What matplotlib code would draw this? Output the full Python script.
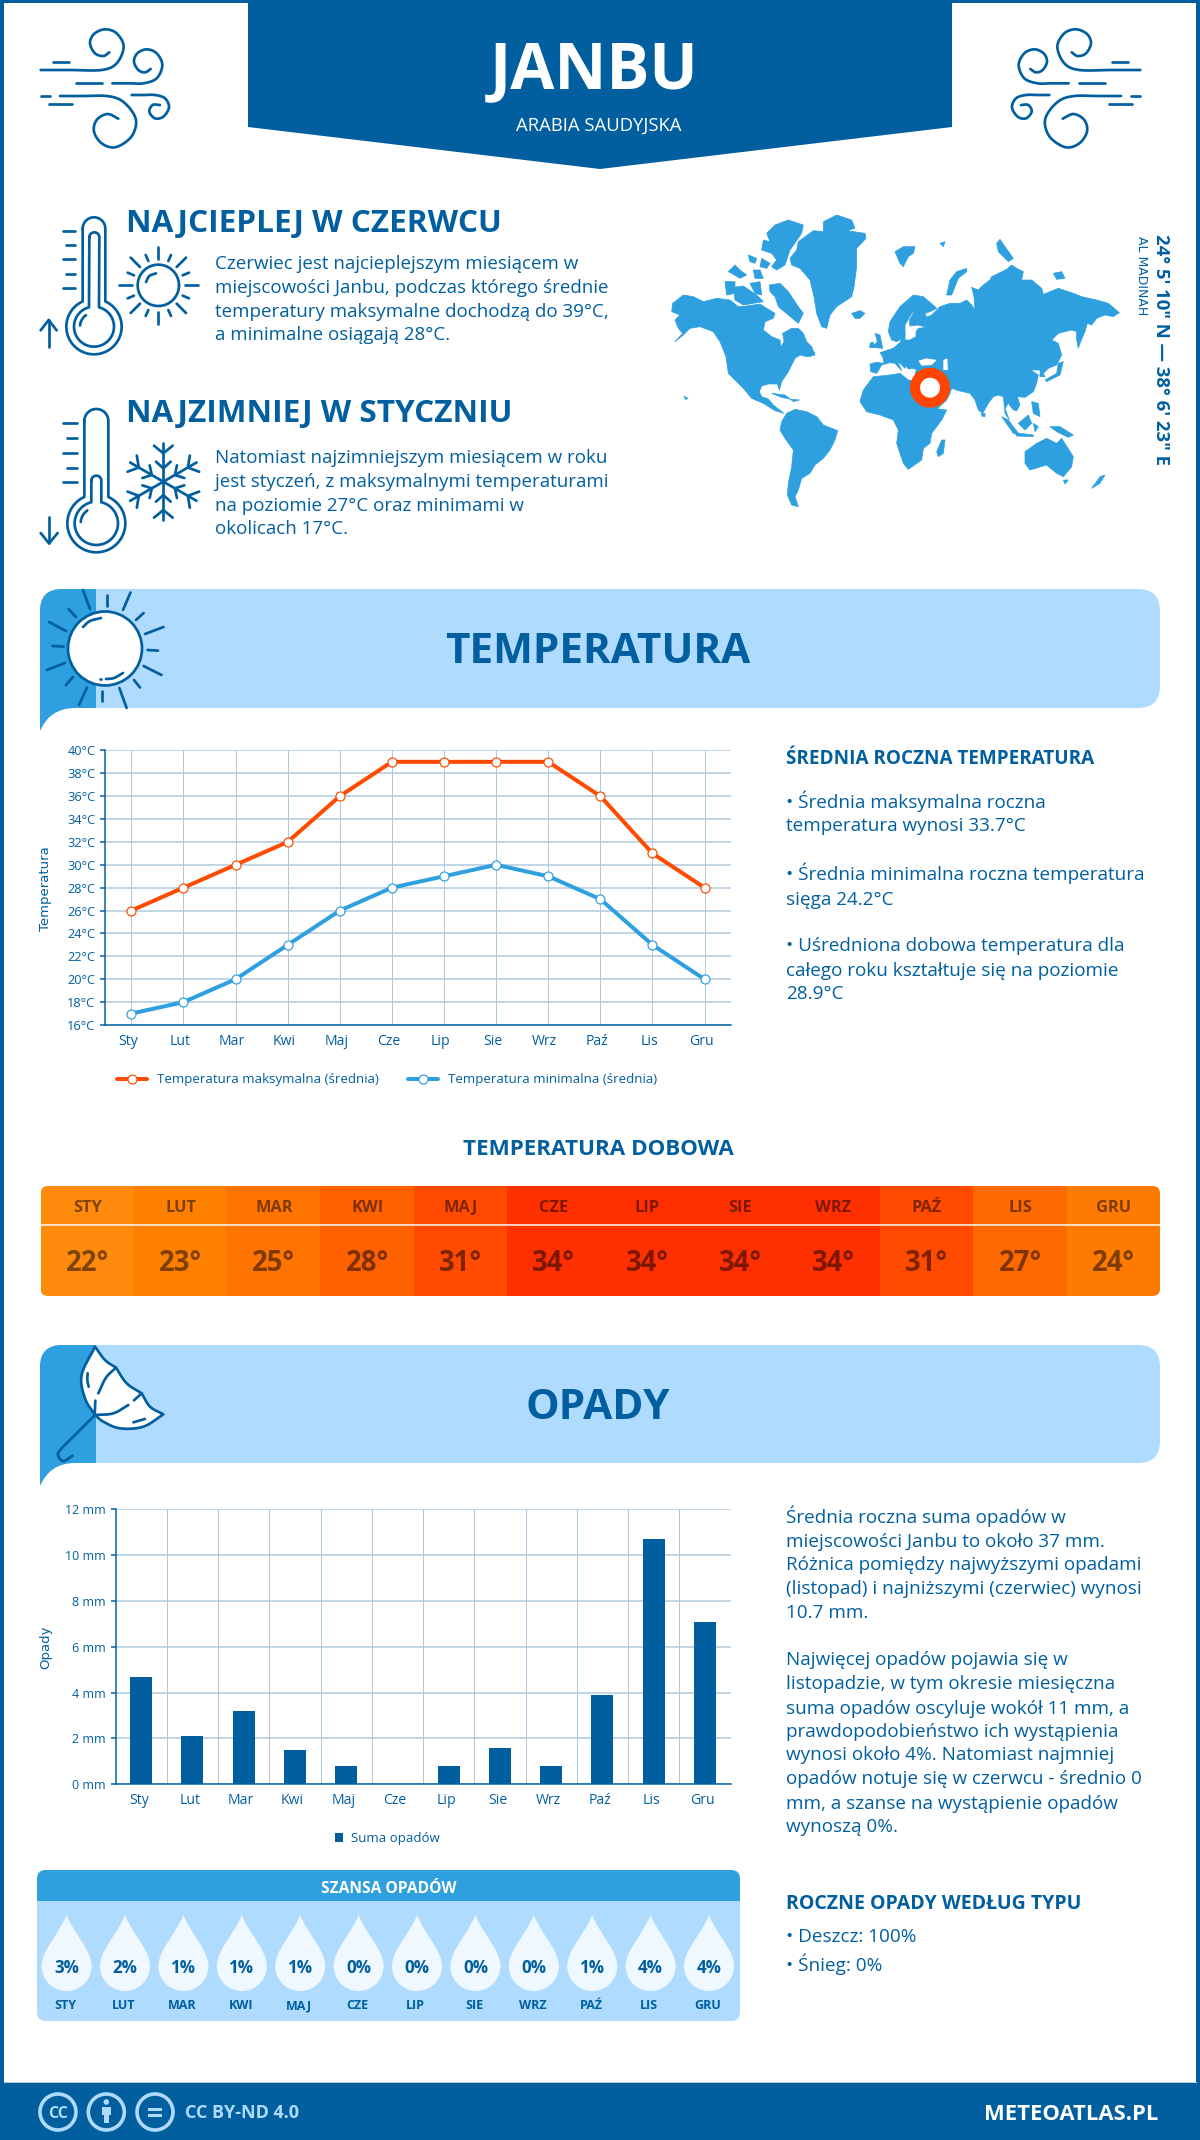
import numpy as np
import matplotlib
matplotlib.use('Agg')
import matplotlib.pyplot as plt
from matplotlib.path import Path
from matplotlib.patches import PathPatch, Polygon, Circle, Rectangle, FancyBboxPatch
from matplotlib.transforms import ScaledTranslation

plt.rcParams['font.family'] = ['Open Sans', 'DejaVu Sans']

# ---------- data ----------
MONTHS = ['Sty', 'Lut', 'Mar', 'Kwi', 'Maj', 'Cze', 'Lip', 'Sie', 'Wrz', 'Paź', 'Lis', 'Gru']
MONTHS_UP = ['STY', 'LUT', 'MAR', 'KWI', 'MAJ', 'CZE', 'LIP', 'SIE', 'WRZ', 'PAŹ', 'LIS', 'GRU']
TEMP_MAX = [26, 28, 30, 32, 36, 39, 39, 39, 39, 36, 31, 28]
TEMP_MIN = [17, 18, 20, 23, 26, 28, 29, 30, 29, 27, 23, 20]
TEMP_DAY = [22, 23, 25, 28, 31, 34, 34, 34, 34, 31, 27, 24]
RAIN = [4.7, 2.1, 3.2, 1.5, 0.8, 0.0, 0.8, 1.6, 0.8, 3.9, 10.7, 7.1]
CHANCE = [3, 2, 1, 1, 1, 0, 0, 0, 0, 1, 4, 4]
TEMP_TICKS = list(range(16, 41, 2))
RAIN_TICKS = list(range(0, 13, 2))

DARK = '#015f9f'
LIGHT = '#afdbff'
MID = '#2e9fdf'
RED = '#ff4a00'
GRID = '#aec9de'
HEAT = {22: '#ff8a0c', 23: '#ff8000', 24: '#ff7a00', 25: '#ff7300', 27: '#ff6a00',
        28: '#ff6100', 31: '#ff4a00', 34: '#ff3000'}

W, H = 1200, 2140
fig = plt.figure(figsize=(W / 100, H / 100), dpi=100, facecolor='white')
PX = 0.72


def px_axes(x0, y0, x1, y1, **kw):
    return fig.add_axes([x0 / W, 1 - y1 / H, (x1 - x0) / W, (y1 - y0) / H], facecolor='none', **kw)


a = fig.add_axes([0, 0, 1, 1])
a.set_xlim(0, W)
a.set_ylim(H, 0)
a.axis('off')


def txt(x, yc, s, px, weight='normal', ha='left', color=DARK, ax=None, **kw):
    (ax or a).text(x, yc + 0.357 * px, s, fontsize=px * PX, fontweight=weight, ha=ha, va='baseline',
                   color=color, **kw)


def smooth(pts, n=10):
    p = np.array(pts, float)
    p = np.vstack([2 * p[0] - p[1], p, 2 * p[-1] - p[-2]])
    out = []
    for i in range(1, len(p) - 2):
        p0, p1, p2, p3 = p[i - 1], p[i], p[i + 1], p[i + 2]
        for t in np.linspace(0, 1, n, endpoint=False):
            out.append(0.5 * ((2 * p1) + (-p0 + p2) * t + (2 * p0 - 5 * p1 + 4 * p2 - p3) * t ** 2 +
                              (-p0 + 3 * p1 - 3 * p2 + p3) * t ** 3))
    out.append(p[-2])
    return np.array(out)


def stroke(xy, lw=2.7, color=DARK, z=5):
    xy = np.asarray(xy)
    a.plot(xy[:, 0], xy[:, 1], color=color, lw=lw * PX, solid_capstyle='round', solid_joinstyle='round', zorder=z)


def arc(cx, cy, r, d0, d1, n=60):
    t = np.radians(np.linspace(d0, d1, n))
    return np.c_[cx + r * np.cos(t), cy + r * np.sin(t)]


# ---------- frame and header ----------
a.add_patch(Rectangle((0, 0), 4, H, color=DARK, lw=0))
a.add_patch(Rectangle((1196, 0), 4, H, color=DARK, lw=0))
a.add_patch(Rectangle((0, 0), W, 3, color=DARK, lw=0))
a.add_patch(Polygon([(248, 0), (952, 0), (952, 127), (600, 169), (248, 127)], color=DARK, lw=0))
txt(594, 65.5, 'JANBU', 64, 'bold', 'center', 'white')
txt(598.5, 124, 'ARABIA SAUDYJSKA', 18.5, 'normal', 'center', 'white')

# wind icons
WIND = [
    [(62, 180), (150, 180), (245, 180), (290, 160), (311, 110), (290, 70), (255, 58), (222, 72), (210, 100), (225, 130), (250, 138), (268, 127)],
    [(277, 220), (330, 220), (370, 220), (410, 205), (427, 165), (410, 130), (380, 118), (352, 130), (342, 155), (355, 180), (375, 187), (392, 177)],
    [(120, 258), (190, 258), (260, 258), (305, 272), (340, 310), (348, 345), (330, 385), (285, 412), (245, 400), (222, 365), (230, 330), (262, 312), (295, 326)],
    [(335, 255), (370, 255), (405, 255), (435, 265), (447, 292), (430, 320), (405, 325), (388, 305), (398, 285), (420, 285)],
    [(98, 155), (148, 155)], [(168, 220), (245, 220)], [(62, 258), (90, 258)], [(86, 283), (155, 283)],
]
for w in WIND:
    xy = smooth(w) / 3 + np.array([20, 10])
    stroke(xy)
    stroke(np.c_[1181 - xy[:, 0], xy[:, 1]])


# ---------- thermometers ----------
def z8(pts):
    return np.asarray(pts, float) / 3 + np.array([30, 205])


def thermo(xl, xr, top, cx, cy, R, r, ix, itop, ticks, long_x, short_x, xe):
    rt = (xr - xl) / 2
    ang = np.degrees(np.arcsin(rt / R))
    out = np.vstack([arc((xl + xr) / 2, top + rt, rt, 180, 360),
                     arc(cx, cy, R, -90 + ang, 270 - ang)])
    out = np.vstack([out, out[:1]])
    stroke(z8(out))
    ri = (ix[1] - ix[0]) / 2
    angi = np.degrees(np.arcsin(ri / r))
    inner = np.vstack([arc(sum(ix) / 2, itop + ri, ri, 180, 360), arc(cx, cy, r, -90 + angi, 270 - angi)])
    inner = np.vstack([inner, inner[:1]])
    stroke(z8(inner))
    stroke(z8(arc(cx, cy, r - 18, 185, 235, 20)))
    for k, y in enumerate(ticks):
        x0 = long_x if k % 2 == 0 else short_x
        stroke(z8([(x0, y), (xe, y)]))


thermo(158, 226, 37, 192, 365, 83, 60, (178, 208), 82, [77, 120, 163, 206, 248], 98, 107, 135)
stroke(z8([(56, 425), (56, 345)]))
stroke(z8([(32, 376), (56, 345), (80, 376)]))
thermo(163, 235, 612, 199, 955, 87, 65, (184, 214), 812, [655, 700, 744, 788, 832], 100, 110, 140)
stroke(z8([(57, 935), (57, 1015)]))
stroke(z8([(32, 984), (57, 1015), (83, 984)]))

# small sun
stroke(z8(arc(385, 241, 62, 0, 360)))
for seg in [((385, 125), (385, 162)), ((385, 320), (385, 358)), ((268, 241), (306, 241)), ((465, 241), (503, 241)),
            ((302, 158), (330, 186)), ((468, 158), (440, 186)), ((302, 324), (330, 296)), ((468, 324), (440, 296)),
            ((347, 150), (355, 168)), ((423, 150), (415, 168)), ((293, 203), (312, 211)), ((477, 203), (458, 211)),
            ((293, 280), (312, 272)), ((477, 280), (458, 272)), ((347, 333), (355, 315)), ((423, 333), (415, 315))]:
    stroke(z8(seg))
stroke(z8(smooth([(348, 231), (358, 213), (378, 205)])))

# snowflake
for ang in range(0, 360, 60):
    t = np.radians(ang)
    rot = np.array([[np.cos(t), -np.sin(t)], [np.sin(t), np.cos(t)]])
    for seg in [[(0, 0), (0, -115)], [(-28, -108), (0, -85), (28, -108)], [(-22, -60), (0, -40), (22, -60)]]:
        stroke(z8((np.array(seg, float) @ rot.T) + np.array([400, 830])))

# ---------- text blocks, top ----------
txt(126, 221, 'NAJCIEPLEJ W CZERWCU', 31.5, 'bold')
for y, s in zip([262.5, 286, 310, 333.5],
                ['Czerwiec jest najcieplejszym miesiącem w', 'miejscowości Janbu, podczas którego średnie',
                 'temperatury maksymalne dochodzą do 39°C,', 'a minimalne osiągają 28°C.']):
    txt(215, y, s, 18.8)
txt(126, 411, 'NAJZIMNIEJ W STYCZNIU', 31.5, 'bold')
for y, s in zip([456.7, 480, 504, 527.6],
                ['Natomiast najzimniejszym miesiącem w roku', 'jest styczeń, z maksymalnymi temperaturami',
                 'na poziomie 27°C oraz minimami w', 'okolicach 17°C.']):
    txt(215, y, s, 18.8)

# ---------- world map outline (decorative, traced in 3x crop coordinates) ----------
LAND = [
    # North America
    [(38, 310), (70, 285), (100, 290), (130, 305), (170, 295), (210, 300), (235, 320), (260, 318), (300, 312), (320, 325),
     (345, 340), (340, 355), (315, 365), (310, 390), (335, 410), (360, 420), (362, 442), (372, 425), (368, 400), (395, 385),
     (415, 385), (430, 400), (440, 425), (455, 440), (465, 465), (440, 470), (420, 465), (405, 475), (395, 495), (385, 515),
     (365, 545), (358, 570), (352, 552), (325, 552), (305, 558), (298, 575), (305, 590), (325, 597), (340, 615), (372, 640),
     (345, 632), (310, 610), (275, 595), (250, 565), (230, 545), (205, 520), (198, 470), (180, 425), (160, 395), (120, 380),
     (90, 385), (70, 405), (45, 425), (68, 400), (55, 385), (45, 360), (60, 345), (35, 335)],
    # South America
    [(365, 665), (380, 640), (405, 628), (440, 635), (470, 650), (490, 675), (533, 692), (525, 720), (510, 750), (490, 775),
     (465, 795), (450, 820), (425, 835), (415, 870), (405, 890), (415, 920), (395, 915), (382, 885), (385, 850), (395, 800),
     (400, 750), (375, 715), (360, 690)],
    # Greenland
    [(415, 125), (460, 92), (490, 95), (490, 65), (530, 45), (575, 60), (585, 85), (560, 92), (615, 100), (618, 115),
     (590, 145), (590, 200), (582, 260), (575, 290), (530, 320), (510, 345), (500, 385), (485, 380), (470, 340), (462, 290),
     (450, 240), (420, 205), (395, 195), (390, 175), (410, 150)],
    # Arctic Canada
    [(320, 100), (345, 75), (385, 60), (430, 75), (425, 100), (390, 150), (375, 195), (350, 210), (335, 200), (350, 180),
     (335, 160), (305, 150), (310, 120), (330, 125)],
    [(328, 255), (360, 250), (385, 275), (415, 320), (430, 340), (415, 370), (385, 345), (355, 320), (345, 290), (330, 275)],
    [(220, 262), (250, 258), (290, 285), (310, 305), (250, 315), (225, 300)],
    [(195, 245), (225, 245), (225, 280), (200, 285)],
    [(205, 215), (225, 195), (240, 210), (260, 225), (240, 235), (215, 220)],
    [(280, 210), (300, 210), (310, 235), (285, 235)],
    [(265, 165), (290, 175), (285, 190), (270, 185)],
    [(305, 175), (330, 190), (320, 205), (300, 200)],
    [(270, 250), (300, 245), (305, 285), (285, 280)],
    [(335, 580), (375, 585), (392, 598), (365, 592)],
    [(392, 598), (418, 600), (400, 605)],
    [(440, 452), (465, 458), (450, 470)],
    # Iceland, Britain, Ireland
    [(575, 340), (600, 332), (615, 340), (600, 355), (585, 355)],
    [(645, 400), (660, 405), (668, 445), (635, 442), (652, 425)],
    [(630, 425), (640, 425), (640, 442), (628, 442)],
    # Eurasia
    [(650, 520), (632, 515), (630, 492), (650, 487), (672, 490), (668, 470), (660, 458), (690, 448), (700, 445), (715, 432),
     (722, 425), (725, 400), (735, 398), (735, 420), (750, 420), (768, 410), (768, 395), (775, 385), (800, 382), (775, 375),
     (750, 378), (748, 360), (760, 340), (775, 325), (825, 320), (830, 325), (810, 335), (795, 340), (800, 352), (815, 345),
     (840, 320), (870, 310), (900, 310), (920, 300), (935, 315), (945, 330), (942, 290), (935, 262), (955, 270), (970, 255),
     (990, 240), (995, 230), (1040, 208), (1055, 195), (1070, 205), (1090, 215), (1085, 240), (1115, 240), (1145, 265),
     (1150, 283), (1195, 265), (1240, 280), (1265, 290), (1310, 300), (1345, 310), (1378, 338), (1360, 350), (1335, 345),
     (1310, 355), (1295, 375), (1282, 370), (1275, 395), (1260, 430), (1255, 445), (1250, 420), (1250, 395), (1235, 390),
     (1195, 400), (1175, 420), (1195, 430), (1205, 465), (1190, 495), (1165, 505), (1150, 520), (1155, 530), (1140, 530),
     (1140, 510), (1112, 510), (1135, 525), (1130, 550), (1120, 575), (1095, 592), (1072, 590), (1080, 615), (1070, 632),
     (1060, 630), (1045, 610), (1035, 625), (1048, 660), (1035, 640), (1030, 590), (1015, 585), (1000, 590), (985, 610),
     (968, 640), (955, 630), (945, 600), (930, 580), (895, 572), (875, 565), (870, 580), (860, 600), (830, 628), (805, 630),
     (800, 600), (775, 540), (765, 520), (770, 510), (760, 505), (745, 507), (738, 497), (745, 480), (735, 505), (720, 490),
     (712, 482), (725, 512), (705, 490), (690, 488), (665, 495)],
    # Scandinavia
    [(685, 395), (690, 365), (720, 320), (760, 285), (790, 290), (825, 320), (775, 330), (755, 340), (735, 375),
     (735, 410), (710, 425), (695, 420)],
    # Arctic Eurasia
    [(705, 155), (730, 140), (765, 140), (760, 160), (745, 170), (730, 200), (720, 190)],
    [(860, 285), (870, 240), (890, 215), (920, 205), (920, 215), (895, 235), (875, 285)],
    [(1010, 130), (1020, 118), (1035, 140), (1060, 175), (1045, 185), (1015, 155)],
    [(840, 130), (855, 125), (850, 140)],
    [(1180, 220), (1205, 215), (1215, 235), (1190, 238)],
    # Asia islands
    [(1155, 540), (1190, 520), (1195, 490), (1210, 485), (1200, 525), (1160, 545)],
    [(1115, 605), (1135, 610), (1140, 650), (1120, 640)],
    [(1075, 670), (1105, 645), (1115, 670), (1095, 690)],
    [(1025, 650), (1045, 660), (1075, 700), (1060, 700)],
    [(1065, 698), (1120, 705), (1120, 710), (1070, 708)],
    [(1120, 670), (1135, 680), (1125, 695)],
    [(1170, 680), (1200, 680), (1240, 705), (1225, 712), (1190, 695)],
    [(965, 640), (975, 640), (975, 650), (965, 648)],
    # Africa
    [(600, 605), (610, 570), (640, 530), (690, 525), (720, 520), (745, 540), (775, 545), (800, 590), (820, 625), (860, 630),
     (845, 660), (815, 700), (810, 730), (790, 745), (785, 780), (745, 808), (730, 790), (710, 730), (715, 690), (700, 660),
     (660, 645), (620, 635)],
    [(845, 720), (855, 720), (850, 760), (835, 770), (830, 755)],
    # Oceania
    [(1095, 755), (1130, 730), (1160, 715), (1190, 730), (1205, 715), (1240, 770), (1235, 800), (1210, 830), (1190, 820),
     (1160, 795), (1110, 810), (1095, 790)],
    [(1210, 840), (1225, 840), (1215, 852)],
    [(1295, 865), (1320, 830), (1335, 825), (1320, 850)],
    [(72, 588), (84, 596), (76, 598)],
]
WATER = [
    [(775, 482), (800, 475), (830, 480), (815, 495), (785, 497)],
    [(850, 480), (862, 475), (864, 510), (850, 510)],
]
off = np.array([660, 200])
for poly in LAND:
    a.add_patch(Polygon(np.array(poly, float) / 3 + off, closed=True, color=MID, lw=0.5, joinstyle='round'))
for poly in WATER:
    a.add_patch(Polygon(np.array(poly, float) / 3 + off, closed=True, color='white', lw=0))
a.add_patch(Circle((930, 387.7), 15, fc='white', ec='#ff4500', lw=10 * PX, zorder=6))
a.text(1161.5, 350, '24° 5\' 10" N — 38° 6\' 23" E', fontsize=18.5 * PX, fontweight='bold', rotation=270,
       ha='center', va='center', color=DARK)
a.text(1142, 276, 'AL MADINAH', fontsize=12.5 * PX, rotation=270, ha='center', va='center', color=DARK,
       family=['DejaVu Sans'])


# ---------- section bands ----------
def band(y0, y1, title):
    a.add_patch(FancyBboxPatch((40, y0), 1120, y1 - y0, boxstyle='round,pad=0,rounding_size=22', fc=LIGHT, ec='none'))
    verts = [(96, y0), (62, y0), (40, y0), (40, y0 + 22), (40, y1 + 23), (40, y1 + 23), (50, y1), (75, y1), (96, y1), (96, y0)]
    codes = [Path.MOVETO, Path.LINETO, Path.CURVE3, Path.CURVE3, Path.LINETO, Path.LINETO, Path.CURVE3, Path.CURVE3, Path.LINETO, Path.CLOSEPOLY]
    a.add_patch(PathPatch(Path(verts, codes), fc=MID, ec='none'))
    txt(598, (y0 + y1) / 2 - 0.5, title, 42.3, 'bold', 'center')


band(589, 708, 'TEMPERATURA')
band(1345, 1463, 'OPADY')

# big sun
a.add_patch(Circle((105, 648.5), 37, fc='white', ec=DARK, lw=2.7 * PX, zorder=5))
for seg in [((83, 590), (90, 609)), ((107, 595), (107, 606)), ((130.5, 592.5), (123, 610)), ((143.6, 613), (136, 620)),
            ((163.5, 627), (145, 634)), ((158, 650.6), (147.5, 650)), ((161.5, 675), (143.6, 666)), ((140, 687.5), (134, 680)),
            ((126.6, 708), (119.4, 688)), ((102.4, 701), (102.4, 690.5)), ((79, 705), (87, 687.5)), ((66, 685), (73, 677)),
            ((46.7, 670), (65, 663)), ((52.5, 646), (63.6, 646.6)), ((49, 622), (66, 631)), ((68.5, 609), (76, 617))]:
    stroke(seg)
stroke(smooth([(83, 627), (90, 621), (101, 618)]))
stroke(smooth([(106, 679), (114, 678), (123, 673)]))
stroke([(100, 679), (100.5, 679)])


# umbrella
def z9(pts):
    return np.asarray(pts, float) / 3 + np.array([30, 1335])


canopy = np.vstack([
    smooth([(195, 35), (225, 75), (258, 98)]), smooth([(258, 98), (290, 145), (335, 175)]),
    smooth([(335, 175), (360, 215), (400, 238)]), smooth([(400, 238), (340, 275), (270, 280), (220, 260), (195, 240)]),
    smooth([(195, 240), (165, 190), (155, 120), (195, 35)])])
a.add_patch(Polygon(z9(canopy), closed=True, fc='white', ec=DARK, lw=2.7 * PX, zorder=5, joinstyle='round'))
for seg in [[(258, 98), (228, 128), (205, 175)], [(196, 197), (194, 240)], [(335, 175), (312, 196)],
            [(295, 210), (250, 235), (195, 240)], [(173, 115), (172, 135), (176, 155)], [(310, 262), (345, 252)]]:
    stroke(z9(smooth(seg)), z=6)
stroke(z9(smooth([(195, 240), (145, 290), (95, 340), (84, 360), (100, 378), (128, 362)])), z=6)

# ---------- temperature chart ----------
ax = px_axes(105.3, 750.4, 730.6, 1025)
x = np.arange(12)
ax.set_xlim(-0.5, 11.5)
ax.set_ylim(16, 40)
ax.set_yticks(TEMP_TICKS, [f'{v}°C' for v in TEMP_TICKS])
ax.set_xticks(x, MONTHS)
ax.grid(axis='y', color=GRID, lw=1.5 * PX)
ax.grid(axis='x', color=GRID, lw=1 * PX)
ax.set_axisbelow(True)
for s in ['top', 'right']:
    ax.spines[s].set_visible(False)
for s in ['left', 'bottom']:
    ax.spines[s].set_color(DARK)
    ax.spines[s].set_linewidth(1.5 * PX)
ax.tick_params(axis='y', length=5 * PX, width=1.5 * PX, color=DARK, pad=5 * PX, labelsize=12.8 * PX, labelcolor=DARK)
ax.tick_params(axis='x', length=0, pad=8.5 * PX, labelsize=14 * PX, labelcolor=DARK)
for lab in ax.get_xticklabels():
    lab.set_transform(lab.get_transform() + ScaledTranslation(-3.4 / 100, 0, fig.dpi_scale_trans))
ms = dict(marker='o', ms=9 * PX, mfc='white', mew=1.2 * PX, solid_capstyle='round', clip_on=False)
ax.plot(x, TEMP_MAX, color=RED, lw=4 * PX, mec=RED, label='Temperatura maksymalna (średnia)', **ms)
ax.plot(x, TEMP_MIN, color=MID, lw=4 * PX, mec=MID, label='Temperatura minimalna (średnia)', **ms)
ax.set_ylabel('Temperatura', family=['DejaVu Sans'], fontsize=13.3 * PX, color=DARK)
ax.yaxis.set_label_coords((52 - 105.3) / 625.3, (1025 - 889) / 274.6)
fig.legend(*ax.get_legend_handles_labels(), loc='center left', bbox_to_anchor=(117, 1080), bbox_transform=a.transData,
           ncol=2, frameon=False, fontsize=13.25 * PX, labelcolor=DARK, handlelength=30 / 13.25,
           handletextpad=10 / 13.25, columnspacing=29 / 13.25, borderpad=0, borderaxespad=0)

for y, s, w in [(757.6, 'ŚREDNIA ROCZNA TEMPERATURA', 'bold'), (801, '• Średnia maksymalna roczna', 'normal'),
                (824.5, 'temperatura wynosi 33.7°C', 'normal'), (873.6, '• Średnia minimalna roczna temperatura', 'normal'),
                (898, 'sięga 24.2°C', 'normal'), (944.6, '• Uśredniona dobowa temperatura dla', 'normal'),
                (969, 'całego roku kształtuje się na poziomie', 'normal'), (992, '28.9°C', 'normal')]:
    txt(786, y, s, 18.9, w)

# ---------- daily temperature table ----------
txt(598, 1147, 'TEMPERATURA DOBOWA', 22.4, 'bold', 'center')
tb = px_axes(40.7, 1186, 1160, 1296)
tb.set_xlim(-0.5, 11.5)
tb.set_ylim(110, 0)
tb.axis('off')
clip = FancyBboxPatch((-0.5, 0), 12, 110, boxstyle='round,pad=0,rounding_size=0.08', mutation_aspect=90, fc='none', ec='none', transform=tb.transData)
tb.add_patch(clip)
bars = tb.bar(x, [110] * 12, width=1.003, color=[HEAT[v] for v in TEMP_DAY], lw=0)
for b in bars:
    b.set_clip_path(clip)
tb.axhline(39, color='white', lw=1.5 * PX, xmin=0, xmax=1)
for i, (m, v) in enumerate(zip(MONTHS_UP, TEMP_DAY)):
    txt(i, 20, m, 16.4, 'bold', 'center', 'black', ax=tb, alpha=0.5)
    txt(i, 75, f'{v}°', 27.5, 'bold', 'center', 'black', ax=tb, alpha=0.5)

# ---------- rain chart ----------
rx = px_axes(115.5, 1509.3, 730.6, 1784.3)
rx.set_xlim(-0.5, 11.5)
rx.set_ylim(0, 12)
rx.set_yticks(RAIN_TICKS, [f'{v} mm' for v in RAIN_TICKS])
rx.set_xticks(x, MONTHS)
rx.set_xticks(np.arange(0.5, 11, 1), minor=True)
rx.grid(axis='y', color=GRID, lw=1.5 * PX)
rx.grid(axis='x', which='minor', color=GRID, lw=1 * PX)
rx.set_axisbelow(True)
for s in ['top', 'right']:
    rx.spines[s].set_visible(False)
for s in ['left', 'bottom']:
    rx.spines[s].set_color(DARK)
    rx.spines[s].set_linewidth(1.5 * PX)
rx.tick_params(axis='y', length=5 * PX, width=1.5 * PX, color=DARK, pad=5 * PX, labelsize=12.5 * PX, labelcolor=DARK)
rx.tick_params(axis='x', which='both', length=0, pad=8.5 * PX, labelsize=14 * PX, labelcolor=DARK)
for lab in rx.get_xticklabels():
    lab.set_transform(lab.get_transform() + ScaledTranslation(-2.5 / 100, 0, fig.dpi_scale_trans))
rx.bar(x, RAIN, width=0.43, color=DARK, label='Suma opadów', zorder=3)
rx.set_ylabel('Opady', family=['DejaVu Sans'], fontsize=13.3 * PX, color=DARK)
rx.yaxis.set_label_coords((52 - 115.5) / 615.1, (1784.3 - 1647) / 275)
fig.legend(*rx.get_legend_handles_labels(), loc='center left', bbox_to_anchor=(335, 1838.7), bbox_transform=a.transData,
           frameon=False, fontsize=13.2 * PX, labelcolor=DARK, handlelength=8 / 13.2, handleheight=8 / 13.2,
           handletextpad=8 / 13.2, borderpad=0, borderaxespad=0)

RAIN_TEXT = [(1516.7, 'Średnia roczna suma opadów w'), (1540, 'miejscowości Janbu to około 37 mm.'),
             (1563, 'Różnica pomiędzy najwyższymi opadami'), (1587, '(listopad) i najniższymi (czerwiec) wynosi'),
             (1611, '10.7 mm.'), (1658, 'Najwięcej opadów pojawia się w'), (1682, 'listopadzie, w tym okresie miesięczna'),
             (1707, 'suma opadów oscyluje wokół 11 mm, a'), (1730, 'prawdopodobieństwo ich wystąpienia'),
             (1753, 'wynosi około 4%. Natomiast najmniej'), (1777, 'opadów notuje się w czerwcu - średnio 0'),
             (1802, 'mm, a szanse na wystąpienie opadów'), (1825, 'wynoszą 0%.')]
for y, s in RAIN_TEXT:
    txt(786, y, s, 18.9)
txt(786, 1902, 'ROCZNE OPADY WEDŁUG TYPU', 19.5, 'bold')
txt(786, 1935, '• Deszcz: 100%', 18.9)
txt(786, 1964, '• Śnieg: 0%', 18.9)

# ---------- chance of rain ----------
a.add_patch(FancyBboxPatch((37, 1870), 703, 151, boxstyle='round,pad=0,rounding_size=9', fc=LIGHT, ec='none'))
hdr = FancyBboxPatch((37, 1870), 703, 151, boxstyle='round,pad=0,rounding_size=9', fc='none', ec='none')
a.add_patch(hdr)
top = a.add_patch(Rectangle((37, 1870), 703, 31, fc=MID, lw=0))
top.set_clip_path(hdr)
txt(389, 1887, 'SZANSA OPADÓW', 15.6, 'bold', 'center', 'white')
cx = px_axes(37.4, 1870, 738.2, 2021)
cx.set_xlim(-0.5, 11.5)
cx.set_ylim(2021, 1870)
cx.axis('off')
SP = 58.4
for i, (c, m) in enumerate(zip(CHANCE, MONTHS_UP)):
    f = lambda d: i + d / SP
    v = [(f(0), 1915), (f(-8), 1935), (f(-25), 1950), (f(-25), 1966), (f(-25), 1980), (f(-14), 1991), (f(0), 1991),
         (f(14), 1991), (f(25), 1980), (f(25), 1966), (f(25), 1950), (f(8), 1935), (f(0), 1915)]
    cx.add_patch(PathPatch(Path(v, [Path.MOVETO] + [Path.CURVE4] * 12), fc='#eff8ff', ec='none'))
    txt(i, 1967, f'{c}%', 17, 'bold', 'center', ax=cx)
    txt(i - 0.02, 2005, m, 12.5, 'bold', 'center', ax=cx)

# ---------- footer ----------
a.add_patch(Rectangle((0, 2082), W, 58, color=DARK, lw=0, zorder=3))
a.plot([4, 1196], [2082, 2082], color='#b9c9d6', lw=1 * PX, zorder=3)
for cxp in (58, 106.3, 155):
    a.add_patch(Circle((cxp, 2112), 18, fc='none', ec=LIGHT, lw=3.6 * PX, zorder=4))
txt(58, 2112, 'CC', 16, 'bold', 'center', LIGHT, zorder=5)
a.add_patch(Circle((106.3, 2102), 2.8, color=LIGHT, lw=0, zorder=5))
a.add_patch(Polygon([(101.5, 2107), (111, 2107), (111, 2115), (109, 2115), (109, 2123), (103.5, 2123), (103.5, 2115), (101.5, 2115)], color=LIGHT, lw=0, zorder=5))
a.add_patch(Rectangle((147.5, 2107.5), 14.5, 3.2, color=LIGHT, lw=0, zorder=5))
a.add_patch(Rectangle((147.5, 2114), 14.5, 3.2, color=LIGHT, lw=0, zorder=5))
txt(185, 2112, 'CC BY-ND 4.0', 18, 'bold', 'left', LIGHT, zorder=5)
txt(1158, 2112, 'METEOATLAS.PL', 22, 'bold', 'right', 'white', zorder=5)

fig.savefig('out.png', dpi=100)
